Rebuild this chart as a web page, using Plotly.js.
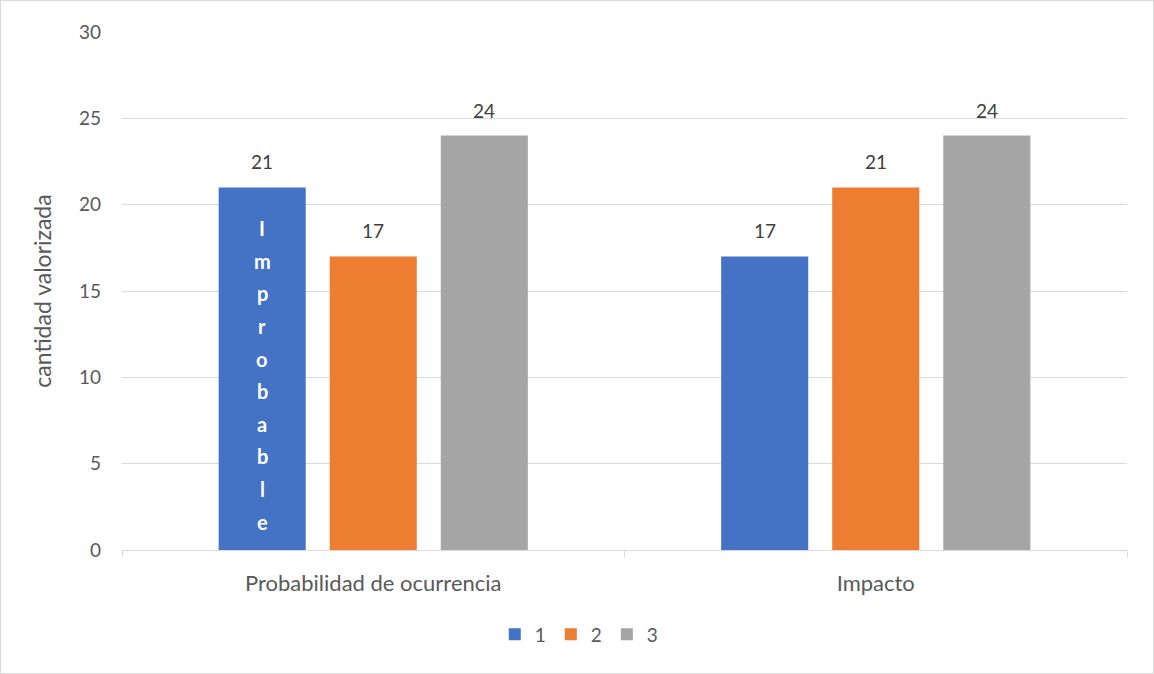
<!DOCTYPE html>
<html>
<head>
<meta charset="utf-8">
<script src="https://cdn.plot.ly/plotly-3.0.1.min.js"></script>
<style>
  html, body { margin: 0; padding: 0; background: #fff; }
  #chart { width: 1152px; height: 672px; border: 1px solid #d9d9d9; }
</style>
</head>
<body>
<div id="chart"></div>
<script>
const categories = ["Probabilidad de ocurrencia", "Impacto"];
const seriesNames = ["1", "2", "3"];
const series1 = [21, 17];
const series2 = [17, 21];
const series3 = [24, 24];
const colors = ["#4472C4", "#ED7D31", "#A5A5A5"];
const insideWord = "Improbable";

const allSeries = [series1, series2, series3];
const font = "Lato, 'Open Sans', sans-serif";

const margin = {l: 121, r: 26, t: 31, b: 123};
const plotW = 1152 - margin.l - margin.r;
const bargap = 0.337;
const catW = plotW / categories.length;
const slot = catW * (1 - bargap) / allSeries.length;

const traces = allSeries.map((vals, i) => ({
  type: "bar",
  name: seriesNames[i],
  x: categories,
  y: vals,
  marker: {color: colors[i]},
  hoverinfo: "x+y+name"
}));

const annotations = [];
allSeries.forEach((vals, i) => {
  vals.forEach((v, j) => {
    annotations.push({
      x: categories[j], y: v, xref: "x", yref: "y",
      text: String(v), showarrow: false,
      yanchor: "bottom", yshift: 12,
      xshift: (i - 1) * slot,
      font: {family: font, size: 19, color: "#404040"}
    });
  });
});

// vertical stacked letters inside first bar
const letters = insideWord.split("");
const topY = series1[0] * 0.888;
const step = series1[0] * 0.09;
letters.forEach((ch, k) => {
  annotations.push({
    x: categories[0], y: topY - k * step, xref: "x", yref: "y",
    text: "<b>" + ch + "</b>", showarrow: false,
    xshift: -slot,
    font: {family: font, size: 20, color: "#ffffff"}
  });
});

const layout = {
  width: 1152, height: 672,
  margin: margin,
  paper_bgcolor: "#ffffff",
  plot_bgcolor: "#ffffff",
  barmode: "group",
  bargap: bargap,
  bargroupgap: 0.216,
  showlegend: true,
  legend: {
    orientation: "h", x: 0.455, xanchor: "center", y: -0.163, yanchor: "middle",
    font: {family: font, size: 19, color: "#595959"},
    itemwidth: 30, tracegroupgap: 0
  },
  xaxis: {
    type: "category",
    showline: true, linecolor: "#d9d9d9", linewidth: 1,
    ticks: "outside", tickson: "boundaries", ticklen: 6, tickcolor: "#d9d9d9",
    showgrid: false,
    ticklabelstandoff: 14,
    tickfont: {family: font, size: 22, color: "#595959"},
    zeroline: false
  },
  yaxis: {
    range: [0, 30], dtick: 5, tick0: 0,
    showgrid: true, gridcolor: "#d9d9d9", gridwidth: 1,
    zeroline: false, showline: false,
    ticks: "", ticklabelstandoff: 20,
    tickfont: {family: font, size: 19, color: "#595959"},
    title: {text: "cantidad valorizada", font: {family: font, size: 23, color: "#595959"}, standoff: 20}
  },
  annotations: annotations
};

Plotly.newPlot("chart", traces, layout, {displayModeBar: false, staticPlot: true});
</script>
</body>
</html>
